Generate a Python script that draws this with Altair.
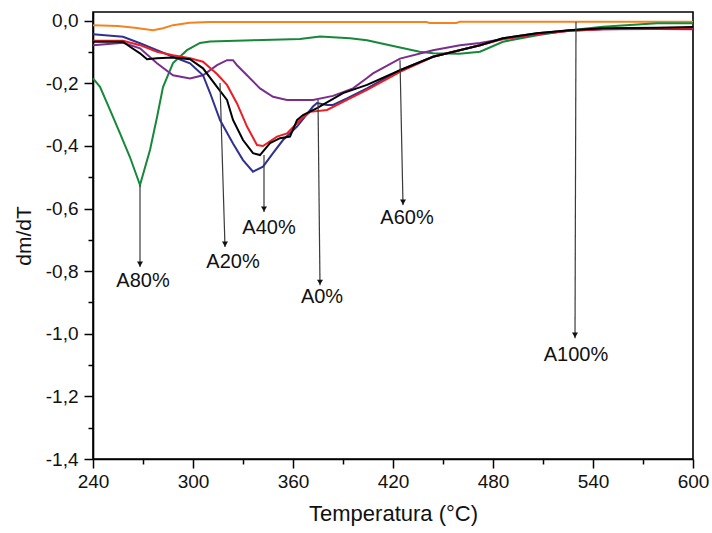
import altair as alt
import pandas as pd

# ---------------- data ----------------
serie_names = ["A100%", "A80%", "A60%", "A40%", "A20%", "A0%"]
serie_colors = ["#f5821f", "#17873a", "#7b2d8e", "#2e3192", "#ee1c25", "#000000"]

temp_A100 = [240, 255, 265, 276, 282, 288, 298, 310, 440, 442, 458, 460, 600]
dmdt_A100 = [-0.014, -0.017, -0.022, -0.030, -0.024, -0.014, -0.006, -0.004, -0.004, -0.007, -0.007, -0.003, -0.003]

temp_A80 = [240, 244.2, 250.2, 256.2, 262.2, 268.2, 274.2, 278.4, 282, 288, 296.4, 304.2, 310.2, 336,
            364.2, 376.2, 394.2, 404.4, 418, 436, 444, 460, 472.2, 486, 506.4, 526.2, 546, 578.4, 600]
dmdt_A80 = [-0.184, -0.211, -0.285, -0.360, -0.436, -0.525, -0.413, -0.308, -0.212, -0.135, -0.094, -0.071,
            -0.066, -0.062, -0.058, -0.050, -0.056, -0.062, -0.078, -0.099, -0.104, -0.105, -0.099, -0.067,
            -0.046, -0.030, -0.019, -0.008, -0.008]

temp_A60 = [240, 258, 268.2, 278.4, 288, 298.2, 306, 314.4, 320.4, 324, 326.4, 332.4, 340.2, 348, 356.4,
            372, 384, 396, 404.4, 408, 424.2, 444, 460.2, 472.2, 484.2, 506.4, 526.2, 546, 578.4, 600]
dmdt_A60 = [-0.078, -0.070, -0.088, -0.136, -0.174, -0.184, -0.174, -0.142, -0.126, -0.126, -0.142, -0.174,
            -0.216, -0.243, -0.253, -0.253, -0.240, -0.216, -0.183, -0.168, -0.121, -0.094, -0.078, -0.071,
            -0.060, -0.043, -0.032, -0.027, -0.026, -0.027]

temp_A40 = [240, 258, 268.2, 278.4, 288, 298.2, 306, 310.2, 316.2, 324, 330, 336, 342, 348, 354, 362.4,
            372, 374.4, 380.4, 384, 392.4, 404.4, 424.2, 444, 472.2, 486, 506.4, 526.2, 546, 578.4, 600]
dmdt_A40 = [-0.043, -0.051, -0.072, -0.094, -0.115, -0.136, -0.174, -0.230, -0.317, -0.392, -0.445, -0.482,
            -0.466, -0.423, -0.381, -0.338, -0.274, -0.263, -0.269, -0.269, -0.248, -0.216, -0.158, -0.115,
            -0.078, -0.056, -0.040, -0.030, -0.026, -0.025, -0.024]

temp_A20 = [240, 258, 268.2, 278.4, 288, 298.2, 306, 314.4, 320.4, 326.4, 332.4, 338.4, 342, 346.2, 350.4,
            356.4, 364.2, 370.2, 380.4, 392.4, 404.4, 424.2, 444, 472.2, 486, 506.4, 526.2, 546, 578.4, 600]
dmdt_A20 = [-0.064, -0.064, -0.078, -0.099, -0.110, -0.120, -0.131, -0.170, -0.205, -0.264, -0.338, -0.397,
            -0.400, -0.385, -0.370, -0.360, -0.317, -0.291, -0.285, -0.253, -0.221, -0.163, -0.115, -0.078,
            -0.058, -0.042, -0.032, -0.027, -0.025, -0.022]

temp_A0 = [240, 258, 262.2, 268.2, 272.4, 278.4, 288, 298.2, 306, 314.4, 320.4, 324, 330, 336, 340.2, 346.2,
           352.2, 358.2, 362.4, 366, 374.4, 390, 404.4, 424.2, 444, 472.2, 486, 506.4, 526.2, 546, 578.4, 600]
dmdt_A0 = [-0.067, -0.067, -0.083, -0.104, -0.123, -0.120, -0.117, -0.123, -0.152, -0.211, -0.253, -0.317,
           -0.381, -0.423, -0.429, -0.391, -0.375, -0.370, -0.317, -0.301, -0.279, -0.231, -0.205, -0.158,
           -0.115, -0.078, -0.056, -0.040, -0.030, -0.024, -0.022, -0.020]

series_temps = [temp_A100, temp_A80, temp_A60, temp_A40, temp_A20, temp_A0]
series_vals = [dmdt_A100, dmdt_A80, dmdt_A60, dmdt_A40, dmdt_A20, dmdt_A0]

# annotations (arrows + labels)
ann_label = ["A80%", "A20%", "A40%", "A0%", "A60%", "A100%"]
ann_start_T = [268.2, 316.2, 342.6, 375.0, 424.2, 529.8]
ann_start_v = [-0.525, -0.199, -0.429, -0.253, -0.126, -0.004]
ann_end_T = [268.2, 319.2, 342.6, 376.2, 426.0, 529.2]
ann_end_v = [-0.787, -0.723, -0.611, -0.845, -0.589, -1.014]
ann_text_T = [270.0, 324.0, 345.6, 377.4, 428.4, 529.8]
ann_text_v = [-0.831, -0.771, -0.662, -0.883, -0.630, -1.068]

x_tick_values = [240, 270, 300, 330, 360, 390, 420, 450, 480, 510, 540, 570, 600]
y_tick_values = [0.0, -0.1, -0.2, -0.3, -0.4, -0.5, -0.6, -0.7, -0.8, -0.9, -1.0, -1.1, -1.2, -1.3, -1.4]

# ---------------- tables ----------------
rows = []
for name, ts, vs in zip(serie_names, series_temps, series_vals):
    for t, v in zip(ts, vs):
        rows.append({"serie": name, "T": t, "v": v})
df = pd.DataFrame(rows)

ann = pd.DataFrame({
    "label": ann_label, "x0": ann_start_T, "y0": ann_start_v,
    "x1": ann_end_T, "y1": ann_end_v, "lx": ann_text_T, "ly": ann_text_v,
})

FONT = "Liberation Sans"
xscale = alt.Scale(domain=[240, 600], nice=False, zero=False)
yscale = alt.Scale(domain=[-1.4, 0.028], nice=False, zero=False)

xaxis = alt.Axis(
    values=x_tick_values,
    labelExpr="datum.value % 60 == 0 ? datum.value : ''",
    tickSize={"condition": {"test": "datum.value % 60 == 0", "value": 9}, "value": 5},
    grid=False, domainColor="black", domainWidth=1.6, tickColor="black", tickWidth=1.5,
    labelFont=FONT, labelFontSize=19, labelColor="#111", labelPadding=4, labelFlush=False,
    title="Temperatura (°C)", titleFont=FONT, titleFontSize=22, titleFontWeight="normal",
    titleColor="#111", titlePadding=12,
)
yaxis = alt.Axis(
    values=y_tick_values,
    labelExpr="abs(round(datum.value*10)) % 2 == 0 ? (datum.value < -0.01 ? '-' : '') + replace(format(abs(datum.value), '.1f'), '.', ',') : ''",
    tickSize={"condition": {"test": "abs(round(datum.value*10)) % 2 == 0", "value": 9}, "value": 5},
    grid=False, domainColor="black", domainWidth=1.6, tickColor="black", tickWidth=1.5,
    labelFont=FONT, labelFontSize=19, labelColor="#111", labelPadding=6, labelFlush=False,
    title="dm/dT", titleFont=FONT, titleFontSize=21, titleFontWeight="normal",
    titleColor="#111", titlePadding=11,
)

lines = alt.Chart(df).mark_line(strokeWidth=2).encode(
    x=alt.X("T:Q", scale=xscale, axis=xaxis),
    y=alt.Y("v:Q", scale=yscale, axis=yaxis),
    color=alt.Color("serie:N", scale=alt.Scale(domain=serie_names, range=serie_colors), legend=None),
)

arrows = alt.Chart(ann).mark_rule(color="#3a3a3a", strokeWidth=1.2).encode(
    x=alt.X("x0:Q", scale=xscale, axis=xaxis),
    y=alt.Y("y0:Q", scale=yscale, axis=yaxis),
    x2="x1:Q", y2="y1:Q",
)

heads = alt.Chart(ann).mark_point(shape="triangle-down", filled=True, color="#111", size=36,
                                  opacity=1, yOffset=-3).encode(
    x=alt.X("x1:Q", scale=xscale, axis=xaxis),
    y=alt.Y("y1:Q", scale=yscale, axis=yaxis),
)

labels = alt.Chart(ann).mark_text(font=FONT, fontSize=20, color="#111", baseline="middle",
                                  align="center").encode(
    x=alt.X("lx:Q", scale=xscale, axis=xaxis),
    y=alt.Y("ly:Q", scale=yscale, axis=yaxis),
    text="label:N",
)

chart = alt.layer(lines, arrows, heads, labels).properties(
    width=600, height=447,
    autosize=alt.AutoSizeParams(type="none"),
    padding={"left": 93, "top": 12, "right": 19, "bottom": 74},
    background="white",
).configure_view(stroke="black", strokeWidth=1.6)

chart.save("out.html", embed_options={"renderer": "svg", "actions": False})
